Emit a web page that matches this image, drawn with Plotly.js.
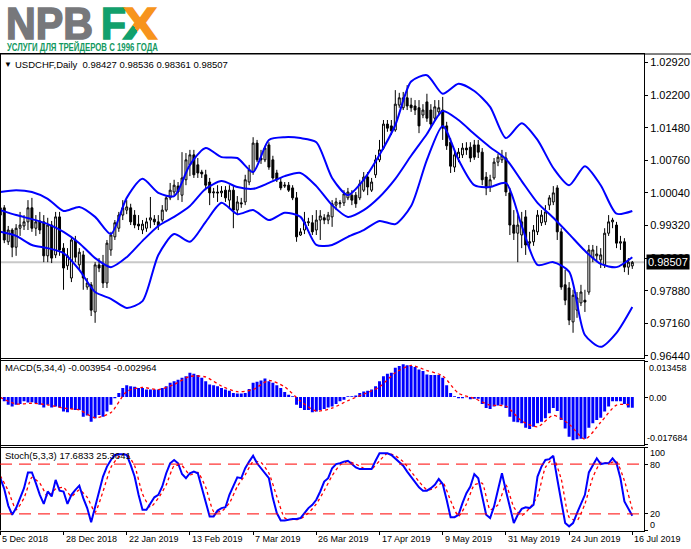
<!DOCTYPE html>
<html>
<head>
<meta charset="utf-8">
<script src="https://cdn.plot.ly/plotly-3.0.1.min.js"></script>
<style>
  html, body { margin: 0; padding: 0; background: #fff; }
  #wrap { position: relative; width: 691px; height: 549px; overflow: hidden; }
  #chart { position: absolute; left: 0; top: 0; width: 691px; height: 549px; }
  #logo { position: absolute; left: 0; top: 0; overflow: visible; }
</style>
</head>
<body>
<div id="wrap">
  <div id="chart"></div>
  <svg id="logo" width="210" height="58">
    <defs>
      <linearGradient id="xg" x1="0" y1="1" x2="1" y2="0">
        <stop offset="0.38" stop-color="#12a06c"/>
        <stop offset="0.38" stop-color="#f7941d"/>
      </linearGradient>
    </defs>
    <text x="6" y="39" font-family="Liberation Sans" font-weight="bold" font-size="44"
          textLength="87" lengthAdjust="spacingAndGlyphs" fill="#77787b"
          stroke="#77787b" stroke-width="1.6">NPB</text>
    <text x="101" y="39" font-family="Liberation Sans" font-weight="bold" font-size="44"
          textLength="25" lengthAdjust="spacingAndGlyphs" fill="#12a06c"
          stroke="#12a06c" stroke-width="1.6">F</text>
    <text x="123" y="39" font-family="Liberation Sans" font-weight="bold" font-size="44"
          textLength="34" lengthAdjust="spacingAndGlyphs" fill="url(#xg)"
          stroke="url(#xg)" stroke-width="1.6">X</text>
    <text x="7" y="50.5" font-family="Liberation Sans Narrow, Liberation Sans" font-weight="bold" font-size="10"
          textLength="151" lengthAdjust="spacingAndGlyphs" fill="#12995f">УСЛУГИ ДЛЯ ТРЕЙДЕРОВ С 1996 ГОДА</text>
  </svg>
</div>
<script>
// USDCHF daily, 161 bars
const open = [
  0.9955,0.9971,0.9896,0.9922,0.9884,0.9926,0.9931,0.9940,0.9971,0.9926,
  0.9942,0.9940,0.9865,0.9933,0.9867,0.9951,0.9882,0.9843,0.9816,0.9900,
  0.9845,0.9867,0.9796,0.9801,0.9741,0.9845,0.9845,0.9805,0.9878,0.9907,
  0.9926,0.9955,0.9966,0.9971,0.9955,0.9935,0.9922,0.9926,0.9944,0.9946,
  0.9940,0.9944,0.9966,0.9993,1.0006,1.0019,0.9999,1.0033,1.0066,1.0088,
  1.0066,1.0050,1.0044,1.0028,1.0004,1.0006,1.0004,1.0010,0.9988,1.0010,
  0.9966,0.9982,0.9984,1.0028,1.0050,1.0114,1.0081,1.0077,1.0110,1.0077,
  1.0048,1.0028,1.0019,1.0021,1.0015,0.9993,0.9911,0.9922,0.9938,0.9938,
  0.9922,0.9944,0.9949,0.9944,0.9951,0.9977,0.9980,0.9982,0.9993,0.9999,
  0.9999,0.9993,1.0010,1.0039,1.0010,1.0044,1.0077,1.0103,1.0156,1.0152,
  1.0143,1.0198,1.0192,1.0214,1.0198,1.0196,1.0192,1.0176,1.0205,1.0187,
  1.0169,1.0183,1.0187,1.0152,1.0116,1.0061,1.0081,1.0088,1.0103,1.0105,
  1.0110,1.0110,1.0094,1.0039,1.0017,1.0037,1.0072,1.0077,1.0081,1.0004,
  0.9933,0.9915,0.9911,0.9951,0.9893,0.9896,0.9918,0.9938,0.9940,0.9977,
  0.9984,1.0015,0.9918,0.9801,0.9794,0.9719,0.9745,0.9761,0.9767,0.9785,
  0.9860,0.9865,0.9856,0.9845,0.9915,0.9940,0.9933,0.9893,0.9896,0.9840,
  0.98427
];
const high = [
  0.9988,0.9977,0.9931,0.9926,0.9935,0.9962,0.9955,0.9988,0.9993,0.9955,
  0.9962,0.9955,0.9949,0.9942,0.9962,0.9962,0.9893,0.9882,0.9907,0.9909,
  0.9882,0.9876,0.9816,0.9807,0.9851,0.9860,0.9867,0.9900,0.9918,0.9944,
  0.9962,0.9988,0.9988,0.9980,0.9966,0.9955,0.9944,0.9949,0.9995,0.9955,
  0.9955,0.9977,0.9999,1.0026,1.0033,1.0028,1.0094,1.0092,1.0099,1.0099,
  1.0081,1.0055,1.0055,1.0037,1.0015,1.0021,1.0019,1.0019,1.0021,1.0019,
  0.9997,0.9993,1.0044,1.0066,1.0127,1.0121,1.0099,1.0108,1.0116,1.0086,
  1.0055,1.0037,1.0028,1.0028,1.0021,1.0006,0.9926,0.9962,0.9949,0.9955,
  0.9966,0.9966,0.9957,0.9962,0.9988,0.9993,0.9988,1.0010,1.0015,1.0010,
  1.0006,1.0033,1.0050,1.0050,1.0037,1.0088,1.0121,1.0165,1.0165,1.0165,
  1.0231,1.0225,1.0227,1.0242,1.0214,1.0209,1.0209,1.0200,1.0223,1.0200,
  1.0209,1.0209,1.0216,1.0161,1.0125,1.0099,1.0103,1.0114,1.0116,1.0116,
  1.0121,1.0121,1.0103,1.0050,1.0044,1.0081,1.0090,1.0099,1.0094,1.0015,
  0.9966,0.9955,0.9962,0.9966,0.9918,0.9933,0.9966,0.9966,0.9977,0.9999,
  1.0019,1.0021,0.9926,0.9834,0.9807,0.9790,0.9785,0.9801,0.9790,0.9889,
  0.9889,0.9887,0.9882,0.9926,0.9955,0.9949,0.9940,0.9909,0.9904,0.9860,
  0.98536
];
const low = [
  0.9922,0.9893,0.9889,0.9862,0.9865,0.9909,0.9922,0.9922,0.9918,0.9909,
  0.9913,0.9851,0.9851,0.9849,0.9860,0.9865,0.9790,0.9834,0.9807,0.9851,
  0.9834,0.9790,0.9790,0.9732,0.9717,0.9829,0.9794,0.9794,0.9865,0.9900,
  0.9918,0.9944,0.9957,0.9933,0.9926,0.9922,0.9913,0.9918,0.9926,0.9933,
  0.9922,0.9940,0.9962,0.9988,0.9999,0.9988,0.9984,1.0021,1.0041,1.0037,
  1.0037,1.0037,1.0010,0.9977,0.9993,0.9984,0.9995,0.9984,0.9971,0.9926,
  0.9955,0.9971,0.9977,1.0021,1.0044,1.0072,1.0068,1.0072,1.0055,1.0033,
  1.0028,1.0010,1.0015,1.0006,0.9988,0.9896,0.9909,0.9913,0.9931,0.9911,
  0.9911,0.9900,0.9935,0.9935,0.9929,0.9966,0.9971,0.9975,0.9988,0.9977,
  0.9971,0.9988,1.0006,0.9999,1.0006,1.0037,1.0072,1.0099,1.0139,1.0132,
  1.0139,1.0192,1.0187,1.0187,1.0183,1.0176,1.0136,1.0169,1.0161,1.0147,
  1.0165,1.0174,1.0121,1.0099,1.0048,1.0050,1.0072,1.0081,1.0088,1.0072,
  1.0077,1.0081,1.0021,0.9999,1.0006,1.0033,1.0063,1.0070,0.9997,0.9911,
  0.9900,0.9851,0.9882,0.9867,0.9882,0.9887,0.9911,0.9931,0.9933,0.9966,
  0.9977,0.9900,0.9790,0.9756,0.9712,0.9695,0.9728,0.9754,0.9741,0.9779,
  0.9851,0.9851,0.9838,0.9838,0.9909,0.9926,0.9882,0.9878,0.9829,0.9823,
  0.98361
];
const close = [
  0.9971,0.9900,0.9922,0.9884,0.9926,0.9933,0.9940,0.9971,0.9926,0.9940,
  0.9922,0.9865,0.9933,0.9860,0.9951,0.9878,0.9838,0.9865,0.9900,0.9862,
  0.9873,0.9816,0.9805,0.9745,0.9845,0.9838,0.9805,0.9893,0.9911,0.9938,
  0.9955,0.9971,0.9973,0.9940,0.9933,0.9931,0.9935,0.9940,0.9949,0.9940,
  0.9931,0.9966,0.9993,1.0010,1.0021,1.0006,1.0037,1.0077,1.0088,1.0044,
  1.0048,1.0046,1.0021,1.0004,1.0006,1.0004,1.0008,0.9993,1.0010,0.9966,
  0.9984,0.9980,1.0033,1.0055,1.0114,1.0077,1.0077,1.0103,1.0061,1.0037,
  1.0033,1.0015,1.0021,1.0010,0.9993,0.9907,0.9918,0.9940,0.9940,0.9918,
  0.9944,0.9953,0.9944,0.9955,0.9980,0.9984,0.9982,1.0002,1.0006,0.9988,
  0.9980,1.0024,1.0039,1.0017,1.0028,1.0077,1.0099,1.0156,1.0147,1.0141,
  1.0200,1.0214,1.0214,1.0196,1.0192,1.0187,1.0152,1.0187,1.0169,1.0156,
  1.0194,1.0192,1.0147,1.0108,1.0063,1.0088,1.0094,1.0103,1.0099,1.0081,
  1.0083,1.0094,1.0033,1.0015,1.0033,1.0072,1.0083,1.0086,1.0006,0.9933,
  0.9915,0.9933,0.9940,0.9889,0.9896,0.9922,0.9955,0.9955,0.9962,0.9993,
  1.0004,0.9918,0.9796,0.9767,0.9723,0.9778,0.9772,0.9785,0.9763,0.9878,
  0.9878,0.9869,0.9867,0.9915,0.9940,0.9944,0.9893,0.9896,0.9840,0.9851,
  0.98507
];

// Bollinger bands (20,2), read every 4th bar
const bbUpper = [
  1.0006,1.0010,1.0006,0.9991,0.9964,0.9973,0.9951,0.9913,0.9993,1.0035,
  1.0004,0.9997,1.0066,1.0103,1.0083,1.0081,1.0050,1.0121,1.0127,1.0125,
  1.0116,1.0037,0.9999,1.0033,1.0088,1.0154,1.0250,1.0264,1.0223,1.0245,
  1.0229,1.0194,1.0125,1.0158,1.0121,1.0059,1.0021,1.0063,1.0021,0.9958,
  0.9964
];
const bbMiddle = [
  0.9966,0.9955,0.9946,0.9935,0.9918,0.9893,0.9860,0.9840,0.9862,0.9898,
  0.9931,0.9951,0.9975,1.0013,1.0030,1.0017,1.0013,1.0026,1.0041,1.0048,
  1.0019,0.9977,0.9951,0.9966,0.9995,1.0035,1.0086,1.0134,1.0185,1.0165,
  1.0134,1.0105,1.0079,1.0030,0.9982,0.9949,0.9913,0.9876,0.9847,0.9840,
  0.9862
];
const bbLower = [
  0.9918,0.9909,0.9889,0.9882,0.9871,0.9834,0.9785,0.9770,0.9750,0.9765,
  0.9867,0.9913,0.9896,0.9940,0.9982,0.9957,0.9966,0.9944,0.9960,0.9951,
  0.9889,0.9889,0.9907,0.9922,0.9942,0.9935,0.9975,1.0077,1.0152,1.0077,
  1.0021,1.0017,1.0026,0.9931,0.9845,0.9851,0.9830,0.9690,0.9664,0.9695,
  0.9752
];

// MACD(5,34,4): histogram per bar, signal every 4th bar
const macdHist = [
  -0.0004,-0.0016,-0.0029,-0.0035,-0.0029,-0.0026,-0.0016,-0.0020,-0.0019,-0.0023,
  -0.0029,-0.0039,-0.0029,-0.0039,-0.0035,-0.0039,-0.0054,-0.0057,-0.0044,-0.0048,
  -0.0048,-0.0073,-0.0069,-0.0092,-0.0079,-0.0067,-0.0073,-0.0054,-0.0029,-0.0004,
  0.0015,0.0034,0.0044,0.0040,0.0039,0.0034,0.0034,0.0028,0.0028,0.0028,
  0.0028,0.0034,0.0040,0.0053,0.0059,0.0065,0.0072,0.0078,0.0091,0.0087,
  0.0082,0.0072,0.0059,0.0047,0.0044,0.0040,0.0034,0.0028,0.0024,0.0015,
  0.0013,0.0013,0.0015,0.0030,0.0053,0.0057,0.0062,0.0069,0.0059,0.0053,
  0.0044,0.0034,0.0019,0.0009,0.0003,-0.0029,-0.0041,-0.0048,-0.0048,-0.0057,
  -0.0054,-0.0048,-0.0044,-0.0039,-0.0035,-0.0026,-0.0016,-0.0010,0.0003,0.0003,
  0.0006,0.0015,0.0021,0.0024,0.0028,0.0040,0.0059,0.0078,0.0087,0.0091,
  0.0109,0.0116,0.0122,0.0119,0.0116,0.0112,0.0103,0.0097,0.0084,0.0082,
  0.0082,0.0082,0.0072,0.0044,0.0015,0.0003,-0.0004,-0.0004,-0.0001,-0.0008,
  -0.0006,-0.0006,-0.0026,-0.0041,-0.0044,-0.0035,-0.0031,-0.0029,-0.0041,-0.0073,
  -0.0092,-0.0094,-0.0098,-0.0114,-0.0119,-0.0111,-0.0098,-0.0092,-0.0079,-0.0060,
  -0.0041,-0.0052,-0.0085,-0.0117,-0.0148,-0.0161,-0.0157,-0.0155,-0.0155,-0.0114,
  -0.0098,-0.0085,-0.0077,-0.0054,-0.0035,-0.0016,-0.0016,-0.0016,-0.0026,-0.0039,
  -0.003954
];
const macdSignal = [
  -0.0001,-0.0026,-0.0023,-0.0029,-0.0041,-0.0048,-0.0077,-0.0058,0.0021,0.0036,
  0.0028,0.0047,0.0077,0.0075,0.0041,0.0020,0.0028,0.0062,0.0038,-0.0015,
  -0.0052,-0.0041,-0.0013,0.0011,0.0038,0.0091,0.0118,0.0099,0.0079,0.0014,
  -0.0005,-0.0030,-0.0034,-0.0089,-0.0111,-0.0068,-0.0101,-0.0157,-0.0094,-0.0030,
  -0.002964
];

// Stochastic(5,3,3): main per bar, signal every 2nd bar
const stochMain = [
  63,50,30,19,27,40,51,70,70,57,
  43,32,47,41,61,48,47,32,43,49,
  54,39,27,10,29,47,65,77,85,91,
  92,92,91,79,65,43,25,25,33,40,
  43,53,69,81,85,81,68,63,69,71,
  69,51,35,17,17,24,27,28,43,53,
  64,63,75,83,90,81,75,70,63,39,
  21,12,12,13,14,14,15,21,27,31,
  37,47,59,63,75,80,81,83,84,80,
  76,74,74,74,74,84,93,93,93,91,
  87,83,78,71,65,59,52,48,48,51,
  55,62,56,37,16,16,19,33,45,53,
  68,63,41,19,15,29,49,69,48,28,
  9,19,26,28,27,31,65,77,85,86,
  90,62,33,9,5,9,21,32,43,70,
  79,87,80,81,81,87,81,63,35,26,
  17.6833
];
const stochSignal = [
  66,48,25,39,64,57,41,50,52,41,
  49,40,22,47,76,89,92,78,44,28,
  39,55,78,78,67,70,52,23,23,33,
  53,67,83,82,69,41,15,13,14,21,
  32,48,66,79,83,80,75,74,84,93,
  90,83,71,59,49,51,58,36,17,32,
  55,57,25,31,55,28,18,27,41,76,
  87,62,16,12,32,64,82,81,83,60,
  25.3641
];

const dateLabels = ['5 Dec 2018','28 Dec 2018','22 Jan 2019','13 Feb 2019','7 Mar 2019','26 Mar 2019',
                    '17 Apr 2019','9 May 2019','31 May 2019','24 Jun 2019','16 Jul 2019'];
const dateBars = [0,16,32,48,64,80,96,112,128,144,160];
const priceTicks = [1.0292,1.0220,1.0148,1.0076,1.0004,0.9932,0.9860,0.9788,0.9716,0.9644];
const lastPrice = 0.98507;

const bars = close.map((_, i) => i);
const every4 = bbUpper.map((_, k) => k * 4);
const every2 = stochSignal.map((_, k) => k * 2);

// pixel helpers for a 691x549 page
const W = 691, H = 549;
const px = x => x / W;
const py = y => (H - y) / H;
const XR = [-0.08, 162.96];

const BLUE = '#0000ff', RED = '#ff0000';
const FONT = 'Liberation Sans, Arial, sans-serif';

const traces = [
  {
    type: 'candlestick', x: bars, open, high, low, close,
    xaxis: 'x', yaxis: 'y', whiskerwidth: 0,
    increasing: { line: { color: '#000', width: 1 }, fillcolor: '#ffffff' },
    decreasing: { line: { color: '#000', width: 1 }, fillcolor: '#000000' },
    hoverinfo: 'skip'
  },
  ...[bbUpper, bbMiddle, bbLower].map(band => ({
    type: 'scatter', mode: 'lines', x: every4, y: band, xaxis: 'x', yaxis: 'y',
    line: { color: BLUE, width: 2, shape: 'spline', smoothing: 0.7 }, hoverinfo: 'skip'
  })),
  {
    type: 'bar', x: bars, y: macdHist, xaxis: 'x2', yaxis: 'y2',
    marker: { color: BLUE, line: { width: 0 } }, hoverinfo: 'skip'
  },
  {
    type: 'scatter', mode: 'lines', x: every4, y: macdSignal, xaxis: 'x2', yaxis: 'y2',
    line: { color: RED, width: 1.3, dash: 'dot', shape: 'spline', smoothing: 0.7 }, hoverinfo: 'skip'
  },
  {
    type: 'scatter', mode: 'lines', x: every2, y: stochSignal, xaxis: 'x3', yaxis: 'y3',
    line: { color: RED, width: 1.3, dash: 'dot', shape: 'spline', smoothing: 0.5 }, hoverinfo: 'skip'
  },
  {
    type: 'scatter', mode: 'lines', x: bars, y: stochMain, xaxis: 'x3', yaxis: 'y3',
    line: { color: BLUE, width: 2 }, hoverinfo: 'skip'
  }
];

const frameX = anchor => ({
  domain: [0, px(644)], range: XR, anchor,
  showline: true, mirror: true, linecolor: '#000', linewidth: 1,
  showgrid: false, zeroline: false, showticklabels: false, ticks: '',
  rangeslider: { visible: false }, fixedrange: true
});
const frameY = (domain, range) => ({
  domain, range, side: 'right',
  showline: true, mirror: true, linecolor: '#000', linewidth: 1,
  showgrid: false, zeroline: false, fixedrange: true
});

const xaxis3 = frameX('y3');
Object.assign(xaxis3, { ticks: 'outside', ticklen: 3, tickcolor: '#000', tickvals: dateBars });

const txt = (text, x, y, size, extra) => Object.assign({
  text, xref: 'paper', yref: 'paper', x: px(x), y: py(y),
  xanchor: 'left', yanchor: 'middle', showarrow: false,
  font: { family: FONT, size, color: '#000' }
}, extra || {});

const annotations = [
  txt('▼', 2, 64, 8),
  txt('USDCHF,Daily\u00a0\u00a00.98427 0.98536 0.98361 0.98507', 13, 64, 9.5),
  txt('MACD(5,34,4) -0.003954 -0.002964', 3, 368, 9.5),
  txt('Stoch(5,3,3) 17.6833 25.3641', 3, 455, 9.5),
  txt('0.013458', 647, 368, 9),
  txt('0.00', 647, 397.5, 9),
  txt('-0.017684', 645, 437.5, 9),
  txt('100', 648, 452.5, 9),
  txt('80', 648, 464.5, 9),
  txt('20', 648, 514, 9),
  txt('0', 648, 524.5, 9),
  ...dateLabels.map((d, k) => ({
    text: d, xref: 'x3', yref: 'paper', x: dateBars[k], y: py(539),
    xanchor: 'left', yanchor: 'middle', showarrow: false,
    font: { family: FONT, size: 9, color: '#000' }
  })),
  {
    text: lastPrice.toFixed(5), xref: 'paper', yref: 'y', x: px(645.5), y: lastPrice,
    xanchor: 'left', yanchor: 'middle', showarrow: false, bgcolor: '#000', borderpad: 1,
    font: { family: FONT, size: 11, color: '#fff' }
  }
];

const shapes = [
  { type: 'line', xref: 'paper', yref: 'paper', x0: 0, x1: 1, y0: py(54), y1: py(54),
    line: { color: '#000', width: 1 } },
  { type: 'line', xref: 'paper', yref: 'paper', x0: px(0.5), x1: px(0.5), y0: py(54), y1: py(530.5),
    line: { color: '#000', width: 1 } },
  { type: 'line', xref: 'x', yref: 'y', x0: XR[0], x1: XR[1], y0: lastPrice, y1: lastPrice,
    layer: 'below', line: { color: '#c8c8c8', width: 2 } },
  ...[80, 20].map(v => ({
    type: 'line', xref: 'x3', yref: 'y3', x0: XR[0], x1: XR[1], y0: v, y1: v,
    line: { color: RED, width: 1, dash: '12px,7px' }
  }))
];

const layout = {
  width: W, height: H,
  margin: { l: 0, r: 0, t: 0, b: 0 },
  paper_bgcolor: '#fff', plot_bgcolor: '#fff',
  font: { family: FONT, size: 10, color: '#000' },
  showlegend: false, bargap: 0.25, hovermode: false,
  xaxis: frameX('y'),
  xaxis2: frameX('y2'),
  xaxis3,
  yaxis: Object.assign(frameY([py(358), py(54)], [0.96393, 1.03108]), {
    ticks: 'outside', ticklen: 3, tickcolor: '#000',
    tickvals: priceTicks, ticktext: priceTicks.map(v => v.toFixed(5)),
    tickfont: { family: FONT, size: 11, color: '#000' }
  }),
  yaxis2: Object.assign(frameY([py(444.5), py(361)], [-0.017684, 0.013458]), {
    ticks: 'outside', ticklen: 3, tickcolor: '#000', tickvals: [0.013458, 0, -0.017684], showticklabels: false
  }),
  yaxis3: Object.assign(frameY([py(530.5), py(447.5)], [0, 100]), {
    ticks: 'outside', ticklen: 3, tickcolor: '#000', tickvals: [100, 80, 20, 0], showticklabels: false
  }),
  annotations, shapes
};

Plotly.newPlot('chart', traces, layout, { displayModeBar: false, staticPlot: true });
</script>
</body>
</html>
